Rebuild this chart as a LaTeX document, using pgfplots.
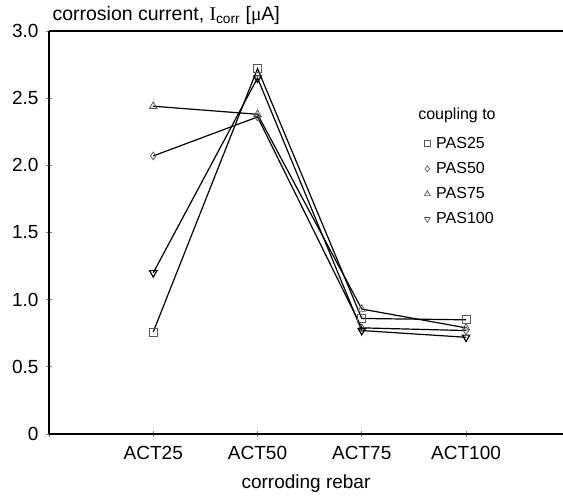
\documentclass[border=0pt]{standalone}
\usepackage{pgfplots}
\pgfplotsset{compat=1.18}
\usepackage{fontspec}
\setmainfont{Liberation Sans}
\newfontfamily\serifi{Liberation Serif}

\begin{document}
\begin{tikzpicture}
  \begin{axis}[
      scale only axis,
      width=514pt, height=403pt,
      xmin=0, xmax=4.93,
      ymin=0, ymax=3,
      axis x line*=bottom,
      axis y line*=left,
      axis line style={line width=1.1pt},
      tick align=center,
      major tick length=6pt,
      tick style={line width=0.8pt},
      xtick={0,1,2,3,4},
      xticklabels={,ACT25,ACT50,ACT75,ACT100},
      ytick={0,0.5,1,1.5,2,2.5,3},
      yticklabels={0,0.5,1.0,1.5,2.0,2.5,3.0},
      /pgf/number format/assume math mode=true,
      ticklabel style={font=\fontsize{19}{22}\selectfont},
      yticklabel style={xshift=-4pt},
      xticklabel style={yshift=-6pt},
      xlabel={corroding rebar},
      xlabel style={font=\fontsize{19}{22}\selectfont, yshift=-8pt},
      title={corrosion current, {\serifi I}\textsubscript{corr} [{\serifi μ}A]},
      title style={at={(rel axis cs:0,1)}, anchor=south west, xshift=0pt, yshift=-3pt,
                   font=\fontsize{19.5}{22}\selectfont},
      legend style={at={(axis cs:3.57,2.24)}, anchor=north west, draw=none, fill=none,
                    font=\fontsize{16}{19}\selectfont, row sep=8.5pt, column sep=4pt},
      legend cell align=left,
      every axis plot/.append style={black, line width=1.2pt,
        mark options={draw=black!65, fill=none, line width=0.8pt, solid}},
    ]
    \addplot[mark=square, mark size=4pt, forget plot] coordinates {
      (1, 0.76) (2, 2.72) (3, 0.86) (4, 0.85)};
    \addplot[mark=diamond, mark size=3.8pt, forget plot] coordinates {
      (1, 2.07) (2, 2.36) (3, 0.79) (4, 0.77)};
    \addplot[mark=triangle, mark size=4.3pt, forget plot] coordinates {
      (1, 2.44) (2, 2.38) (3, 0.93) (4, 0.79)};
    \addplot[mark=triangle, mark size=4.3pt, mark options={rotate=180}, forget plot] coordinates {
      (1, 1.20) (2, 2.65) (3, 0.77) (4, 0.72)};

    \addlegendimage{only marks, mark=square, mark size=2.9pt, mark options={draw=black!65, line width=0.7pt}}
    \addlegendentry{PAS25}
    \addlegendimage{only marks, mark=diamond, mark size=3pt, mark options={draw=black!65, line width=0.7pt}}
    \addlegendentry{PAS50}
    \addlegendimage{only marks, mark=triangle, mark size=3.3pt, mark options={draw=black!65, line width=0.7pt}}
    \addlegendentry{PAS75}
    \addlegendimage{only marks, mark=triangle, mark size=3.3pt, mark options={draw=black!65, line width=0.7pt, rotate=180}}
    \addlegendentry{PAS100}

    \node[anchor=west, font=\fontsize{16}{19}\selectfont, inner sep=0pt] at (axis cs:3.54,2.374) {coupling to};
    \draw[line width=1.1pt] (rel axis cs:0,1) -- (rel axis cs:1,1);
    \coordinate (bl) at (rel axis cs:0,0);
    \coordinate (tr) at (rel axis cs:1,1);
  \end{axis}
  \pgfresetboundingbox
  \useasboundingbox ([shift={(-49pt,-63pt)}]bl) rectangle ([yshift=31pt]tr);
\end{tikzpicture}
\end{document}
